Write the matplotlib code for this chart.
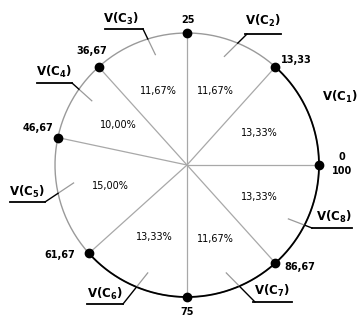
import numpy as np
import matplotlib
matplotlib.use("Agg")
import matplotlib.pyplot as plt

plt.rcParams['font.family'] = ['DejaVu Sans']
plt.rcParams['mathtext.default'] = 'bf'

# valores dos pontos no circulo (0..100, sentido anti-horario a partir da direita)
valores = [0, 13.33, 25, 36.67, 46.67, 61.67, 75, 86.67]
rot_valores = ["0\n100", "13,33", "25", "36,67", "46,67", "61,67", "75", "86,67"]
percentuais = ["13,33%", "11,67%", "11,67%", "10,00%", "15,00%", "13,33%", "11,67%", "13,33%"]
rot_setores = [r"V(C$_{%d}$)" % (i + 1) for i in range(8)]

# layout (pixels da imagem original)
cx, cy, R = 187, 165, 132
W, H = 360, 316


def px(x, y):
    return (x - cx) / R, (cy - y) / R


pos_valores = [(342, 164), (281, 60), (188, 20), (107, 51), (53, 128), (75, 255), (187, 312), (284, 267)]
ha_valores = ["center", "left", "center", "right", "right", "right", "center", "left"]
pos_setores = [(340, 97), (263, 21), (121, 19), (54, 72), (27, 192), (105, 294), (272, 291), (334, 217)]
sublinha = [None, (245, 281, 34), (105, 143, 29), (37, 72, 83), (10, 45, 202), (87, 123, 304), (253, 292, 302), (312, 352, 228)]
ponta = [None, (247, 34), (143, 29), (72, 83), (45, 202), (123, 304), (255, 302), (312, 228)]
ang_chamada = [None, 71, 106, 146, 189, 250, 290, 332]

fig = plt.figure(figsize=(3.6, 3.16), dpi=100)
ax = fig.add_axes([0, 0, 1, 1])
ax.set_xlim(-cx / R, (W - cx) / R)
ax.set_ylim(-(H - cy) / R, cy / R)
ax.axis("off")

ang = np.radians(np.array(valores) * 3.6)

# circulo: parte cinza e parte preta
t = np.linspace(0, 2 * np.pi, 400)
ax.plot(np.cos(t), np.sin(t), color="#9a9a9a", lw=1.0, zorder=1)
t2 = np.linspace(np.radians(222), np.radians(360 + 48), 300)
ax.plot(np.cos(t2), np.sin(t2), color="black", lw=1.3, zorder=2)

# raios
for a in ang:
    ax.plot([0, np.cos(a)], [0, np.sin(a)], color="#a8a8a8", lw=0.9, zorder=1)

# pontos
ax.scatter(np.cos(ang), np.sin(ang), s=36, color="black", zorder=3)

for (x, y), s, ha in zip(pos_valores, rot_valores, ha_valores):
    X, Y = px(x, y)
    ax.text(X, Y, s, ha=ha, va="center", fontsize=7, fontweight="bold",
            family=["Liberation Sans Narrow", "DejaVu Sans"], linespacing=1.4)

# percentuais no meio de cada setor
fim = np.append(ang[1:], 2 * np.pi)
meio = (ang + fim) / 2
for m, p in zip(meio, percentuais):
    ax.text(0.6 * np.cos(m), 0.6 * np.sin(m), p, ha="center", va="center",
            fontsize=7, family=["Liberation Sans Narrow", "DejaVu Sans"])

# rotulos dos setores com linha de chamada
for i in range(8):
    X, Y = px(*pos_setores[i])
    ax.text(X, Y, rot_setores[i], ha="center", va="center", fontsize=8.5,
            fontweight="bold")
    if sublinha[i] is None:
        continue
    x0, x1, yy = sublinha[i]
    ax.plot([px(x0, yy)[0], px(x1, yy)[0]], [px(x0, yy)[1]] * 2, color="black", lw=1.3)
    m = np.radians(ang_chamada[i])
    p_in = np.array([0.87 * np.cos(m), 0.87 * np.sin(m)])
    p_out = np.array(px(*ponta[i]))
    d = p_out - p_in
    a_ = d @ d
    b_ = 2 * p_in @ d
    c_ = p_in @ p_in - 1
    s = (-b_ + np.sqrt(b_ * b_ - 4 * a_ * c_)) / (2 * a_)
    pc = p_in + s * d
    ax.plot([p_in[0], pc[0]], [p_in[1], pc[1]], color="#9a9a9a", lw=0.9)
    ax.plot([pc[0], p_out[0]], [pc[1], p_out[1]], color="black", lw=1.0)

fig.savefig("out.png", dpi=100)
